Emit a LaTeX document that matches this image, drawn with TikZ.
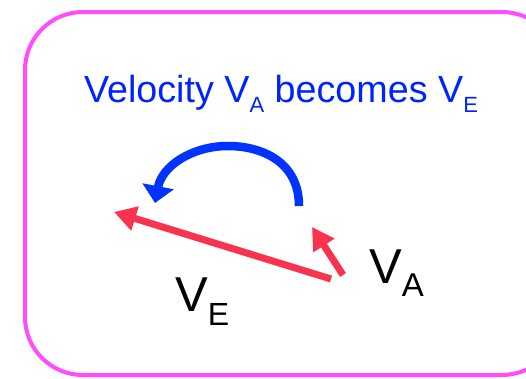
\documentclass[tikz,border=0pt]{standalone}
\usepackage{fontspec}
\setmainfont{Liberation Sans}
\usetikzlibrary{arrows.meta}
\definecolor{frame}{HTML}{FF4CFF}
\definecolor{arcblue}{HTML}{0033FF}
\definecolor{vec}{HTML}{F7334D}
\definecolor{ttl}{HTML}{0022FF}
\newcommand{\lowsub}[3]{\raisebox{-#1pt}{\fontsize{#2}{#2}\selectfont #3}}
\tikzset{
  every picture/.style={line join=round, x=1pt, y=-1pt},
  vector/.style={vec, line width=7pt, -{Triangle[length=22pt,width=24pt]}},
  turnarrow/.style={arcblue, line width=8.5pt, -{Triangle[length=17pt,width=31pt]}},
  biglabel/.style={anchor=base west, inner sep=0pt, font=\fontsize{49}{52}\selectfont},
}

\begin{document}
\begin{tikzpicture}
\useasboundingbox (0,0) rectangle (526,378);
\draw[frame, line width=4pt, rounded corners=58pt] (25,12) rectangle (560,375);
\node[ttl, anchor=base, inner sep=0pt, font=\fontsize{37.7}{40}\selectfont] (title) at (281,102)
  {Velocity V\lowsub{10}{22}{A} becomes V\lowsub{10}{22}{E}};
% vectors
\coordinate (tail) at (331,279);
\coordinate (eTip) at (114,212);
\coordinate (aTail) at (343,275);
\coordinate (aTip) at (312,227);
\draw[vector, line cap=butt] (tail) -- (eTip);
\draw[vector, line cap=butt] (aTail) -- (aTip);
% turning arrow
\coordinate (sStart) at (299,206);
\coordinate (sEnd) at (155,203);
\draw[turnarrow, line cap=butt] (sStart) .. controls (299,162) and (262,146) .. (228,146)
  .. controls (192,146) and (162,166) .. (sEnd);
\node[biglabel] (vE) at (175,311) {V\lowsub{14}{32}{E}};
\node[biglabel] (vA) at (369,283) {V\lowsub{13}{33}{A}};
\end{tikzpicture}
\end{document}
